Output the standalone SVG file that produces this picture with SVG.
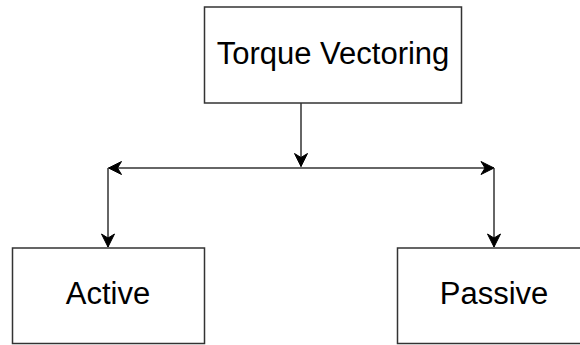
<svg xmlns="http://www.w3.org/2000/svg" width="580" height="345" viewBox="0 0 580 345">
<style>
.box{fill:#ffffff;stroke:#333333;stroke-width:1.5}
.lbl{font-family:"Liberation Sans",Arial,sans-serif;font-size:31px;fill:#000000;text-anchor:middle}
.edge{fill:none;stroke:#333333;stroke-width:1.5}
</style>
<defs>
<marker id="arr" markerUnits="userSpaceOnUse" markerWidth="20" markerHeight="20" viewBox="-16 -10 20 20" refX="0" refY="0" orient="auto-start-reverse">
<path d="M0,0 L-13,-6.5 L-9,0 L-13,6.5 Z" fill="#000000" stroke="#000000" stroke-width="1"/>
</marker>
</defs>
<rect width="580" height="345" fill="#ffffff"/>
<g id="connectors">
<path class="edge" d="M301,103 L301,166.5" marker-end="url(#arr)"/>
<path class="edge" d="M108.5,168 L494,168" marker-start="url(#arr)" marker-end="url(#arr)"/>
<path class="edge" d="M108,168 L108,247" marker-end="url(#arr)"/>
<path class="edge" d="M494,168 L494,247" marker-end="url(#arr)"/>
</g>
<g id="node-torque">
<rect class="box" x="204.5" y="7" width="257" height="96"/>
<text class="lbl" x="333" y="63.5">Torque Vectoring</text>
</g>
<g id="node-active">
<rect class="box" x="12.5" y="248" width="192" height="95.5"/>
<text class="lbl" x="108" y="304">Active</text>
</g>
<g id="node-passive">
<rect class="box" x="397.5" y="248" width="192" height="95.5"/>
<text class="lbl" x="494" y="304">Passive</text>
</g>
</svg>
